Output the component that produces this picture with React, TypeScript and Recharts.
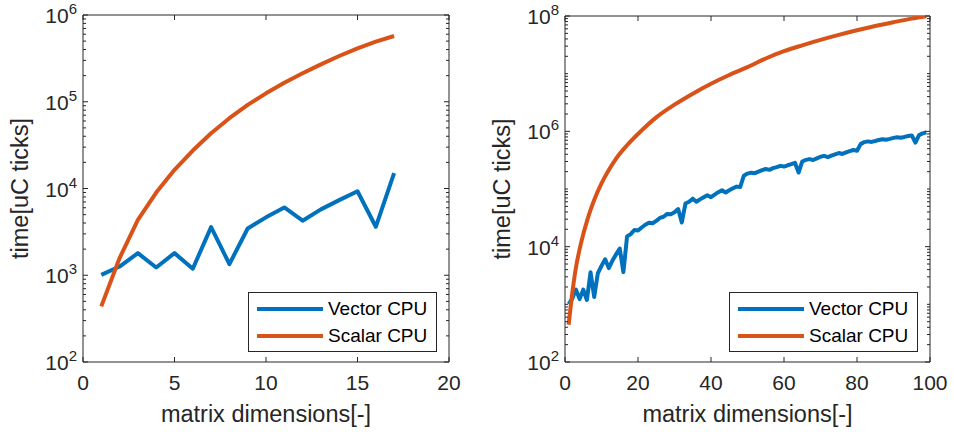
import React from "react";
import {
  LineChart,
  Line,
  XAxis,
  YAxis,
  Legend,
  ReferenceArea,
} from "recharts";

const FONT = '"Liberation Sans", Arial, Helvetica, sans-serif';
const AXIS = "#262626";
const BLUE = "#0072BD";
const ORANGE = "#D95319";
const LEGEND_ORDER = ["Vector CPU", "Scalar CPU"];

// left panel: small matrices
const leftDims = [1, 2, 3, 4, 5, 6, 7, 8, 9, 10, 11, 12, 13, 14, 15, 16, 17];
const leftVector = [
  1010, 1260, 1800, 1230, 1800, 1190, 3590, 1345, 3460, 4650, 6050, 4250, 5750,
  7350, 9300, 3620, 15000,
];
const leftScalar = [
  438, 1580, 4360, 8990, 16400, 27400, 43400, 64600, 92000, 125000, 166000,
  213000, 270000, 337000, 413000, 493000, 573000,
];

// right panel: up to 99x99
const rightDims = [
  1, 2, 3, 4, 5, 6, 7, 8, 9, 10, 11, 12, 13, 14, 15, 16, 17, 18, 19, 20, 21, 22,
  23, 24, 25, 26, 27, 28, 29, 30, 31, 32, 33, 34, 35, 36, 37, 38, 39, 40, 41,
  42, 43, 44, 45, 46, 47, 48, 49, 50, 51, 52, 53, 54, 55, 56, 57, 58, 59, 60,
  61, 62, 63, 64, 65, 66, 67, 68, 69, 70, 71, 72, 73, 74, 75, 76, 77, 78, 79,
  80, 81, 82, 83, 84, 85, 86, 87, 88, 89, 90, 91, 92, 93, 94, 95, 96, 97, 98,
  99,
];
const rightVector = [
  1010, 1260, 1800, 1230, 1800, 1190, 3590, 1345, 3460, 4650, 6050, 4250, 5750,
  7350, 9300, 3620, 15000, 16500, 19500, 19000, 21500, 24000, 26000, 25500,
  28000, 31500, 33000, 37000, 36500, 39500, 45000, 26300, 56000, 60000, 68000,
  60000, 66000, 72000, 78000, 72000, 80000, 88000, 95000, 87000, 95000, 103000,
  110000, 108000, 170000, 185000, 192000, 188000, 200000, 212000, 222000,
  215000, 230000, 240000, 252000, 245000, 258000, 270000, 285000, 193000,
  300000, 320000, 330000, 318000, 340000, 362000, 375000, 358000, 380000,
  400000, 420000, 405000, 430000, 455000, 475000, 460000, 600000, 650000,
  670000, 655000, 680000, 710000, 730000, 715000, 740000, 770000, 790000,
  775000, 800000, 830000, 850000, 638000, 860000, 920000, 960000,
];
const rightScalarDims = [
  1, 2, 3, 4, 5, 6, 7, 8, 10, 12, 14, 17, 20, 25, 30, 35, 40, 45, 50, 55, 60,
  65, 70, 75, 80, 85, 90, 95, 99,
];
const rightScalar = [
  443, 1580, 4360, 8990, 16400, 27400, 43400, 64600, 125000, 213000, 337000,
  573000, 900000, 1750000, 2900000, 4500000, 6700000, 9500000, 13000000,
  18300000, 24500000, 31000000, 38500000, 47000000, 56500000, 67000000,
  78000000, 90000000, 99000000,
];

const leftXTicks = [0, 5, 10, 15, 20];
const rightXTicks = [0, 20, 40, 60, 80, 100];
const leftDecades = [1e2, 1e3, 1e4, 1e5, 1e6];
const rightDecades = [1e2, 1e3, 1e4, 1e5, 1e6, 1e7, 1e8];
const leftYLabels = [2, 3, 4, 5, 6];
const rightYLabels = [2, 4, 6, 8];
const minorSteps = [2, 3, 4, 5, 6, 7, 8, 9];

const withMinor = (decades: number[]) =>
  decades.concat(
    decades.slice(0, -1).flatMap((d) => minorSteps.map((k) => k * d))
  );

const pairs = (xs: number[], ys: number[]) =>
  xs.map((x, i) => ({ x, y: ys[i] }));

function YTick(props: any) {
  const { y, payload, plotLeft, plotRight, labels } = props;
  const exp = Math.log10(payload.value);
  const e = Math.round(exp);
  const major = Math.abs(exp - e) < 1e-6 && labels.includes(e);
  const len = major ? 5 : 3;
  return (
    <g>
      <line x1={plotLeft} x2={plotLeft + len} y1={y} y2={y} stroke={AXIS} />
      <line x1={plotRight - len} x2={plotRight} y1={y} y2={y} stroke={AXIS} />
      {major && (
        <text
          x={plotLeft - 6}
          y={y + 8}
          textAnchor="end"
          fontSize={21}
          fontFamily={FONT}
          fill={AXIS}
        >
          10
          <tspan dy={-9} fontSize={15}>
            {e}
          </tspan>
        </text>
      )}
    </g>
  );
}

function XTick(props: any) {
  const { x, payload, plotTop, plotBottom } = props;
  return (
    <g>
      <line x1={x} x2={x} y1={plotBottom} y2={plotBottom - 5} stroke={AXIS} />
      <line x1={x} x2={x} y1={plotTop} y2={plotTop + 5} stroke={AXIS} />
      <text
        x={x}
        y={plotBottom + 28}
        textAnchor="middle"
        fontSize={21}
        fontFamily={FONT}
        fill={AXIS}
      >
        {payload.value}
      </text>
    </g>
  );
}

function YTitle({ px, py }: any) {
  return (
    <text
      x={px}
      y={py}
      transform={`rotate(-90 ${px} ${py})`}
      textAnchor="middle"
      fontSize={23.5}
      fontFamily={FONT}
      fill={AXIS}
    >
      time[uC ticks]
    </text>
  );
}

function XTitle({ px, py }: any) {
  return (
    <text
      x={px}
      y={py}
      textAnchor="middle"
      fontSize={23.5}
      fontFamily={FONT}
      fill={AXIS}
    >
      matrix dimensions[-]
    </text>
  );
}

function LegendBox({ payload }: any) {
  const items = [...(payload || [])].sort(
    (a: any, b: any) =>
      LEGEND_ORDER.indexOf(a.value) - LEGEND_ORDER.indexOf(b.value)
  );
  return (
    <div
      style={{
        width: 189,
        height: 60,
        boxSizing: "border-box",
        border: `1px solid ${AXIS}`,
        background: "#fff",
        paddingTop: 2,
        fontFamily: FONT,
        fontSize: 19,
        color: "#000",
      }}
    >
      {items.map((p: any) => (
        <div
          key={p.value}
          style={{ display: "flex", alignItems: "center", height: 27 }}
        >
          <svg width={79} height={10} style={{ flex: "none" }}>
            <line x1={8} x2={74} y1={5} y2={5} stroke={p.color} strokeWidth={4} />
          </svg>
          <span>{p.value}</span>
        </div>
      ))}
    </div>
  );
}

type PanelProps = {
  left: number;
  plotLeft: number;
  plotRight: number;
  plotTop: number;
  xMax: number;
  xTicks: number[];
  decades: number[];
  yLabels: number[];
  vector: { x: number; y: number }[];
  scalar: { x: number; y: number }[];
  scalarCurve: "linear" | "monotone";
};

function Panel(p: PanelProps) {
  const W = 477;
  const H = 432;
  const plotBottom = 362;
  const yTicks = withMinor(p.decades);
  const yMin = p.decades[0];
  const yMax = p.decades[p.decades.length - 1];
  return (
    <div style={{ position: "absolute", left: p.left, top: 0, width: W, height: H }}>
      <LineChart
        width={W}
        height={H}
        margin={{ top: p.plotTop, right: W - p.plotRight, bottom: 0, left: 0 }}
      >
        <ReferenceArea
          x1={0}
          x2={p.xMax}
          y1={yMin}
          y2={yMax}
          fill="none"
          stroke={AXIS}
          strokeWidth={1}
          ifOverflow="visible"
        />
        <XAxis
          type="number"
          dataKey="x"
          domain={[0, p.xMax]}
          ticks={p.xTicks}
          interval={0}
          height={H - plotBottom}
          axisLine={false}
          tickLine={false}
          allowDataOverflow
          tick={<XTick plotTop={p.plotTop} plotBottom={plotBottom} />}
          label={<XTitle px={(p.plotLeft + p.plotRight) / 2} py={plotBottom + 60} />}
        />
        <YAxis
          type="number"
          scale="log"
          domain={[yMin, yMax]}
          ticks={yTicks}
          interval={0}
          width={p.plotLeft}
          axisLine={false}
          tickLine={false}
          allowDataOverflow
          tick={
            <YTick plotLeft={p.plotLeft} plotRight={p.plotRight} labels={p.yLabels} />
          }
          label={<YTitle px={p.plotLeft - 55} py={(p.plotTop + plotBottom) / 2} />}
        />
        <Line
          data={p.vector}
          dataKey="y"
          name="Vector CPU"
          type="linear"
          stroke={BLUE}
          strokeWidth={4}
          strokeLinejoin="round"
          dot={false}
          activeDot={false}
          isAnimationActive={false}
        />
        <Line
          data={p.scalar}
          dataKey="y"
          name="Scalar CPU"
          type={p.scalarCurve}
          stroke={ORANGE}
          strokeWidth={4}
          strokeLinejoin="round"
          dot={false}
          activeDot={false}
          isAnimationActive={false}
        />
        <Legend
          layout="vertical"
          align="center"
          verticalAlign="middle"
          content={<LegendBox />}
          wrapperStyle={{
            position: "absolute",
            left: p.plotRight - 201,
            top: 292,
            width: 189,
            height: 60,
          }}
        />
      </LineChart>
    </div>
  );
}

export default function App() {
  return (
    <div
      style={{
        position: "absolute",
        left: 0,
        top: 0,
        width: 954,
        height: 432,
        background: "#fff",
      }}
    >
      <Panel
        left={0}
        plotLeft={83}
        plotRight={449}
        plotTop={15}
        xMax={20}
        xTicks={leftXTicks}
        decades={leftDecades}
        yLabels={leftYLabels}
        vector={pairs(leftDims, leftVector)}
        scalar={pairs(leftDims, leftScalar)}
        scalarCurve="linear"
      />
      <Panel
        left={477}
        plotLeft={88}
        plotRight={453}
        plotTop={16}
        xMax={100}
        xTicks={rightXTicks}
        decades={rightDecades}
        yLabels={rightYLabels}
        vector={pairs(rightDims, rightVector)}
        scalar={pairs(rightScalarDims, rightScalar)}
        scalarCurve="monotone"
      />
    </div>
  );
}
